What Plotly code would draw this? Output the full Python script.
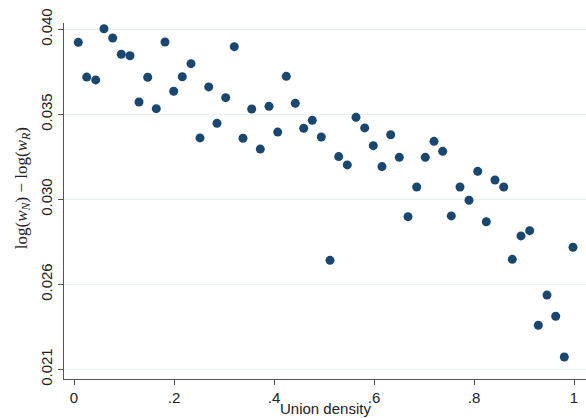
import plotly.graph_objects as go

union_density = [0.0086, 0.0254, 0.0434, 0.060, 0.0774, 0.0946, 0.112, 0.130, 0.1474, 0.1646,
                 0.182, 0.1994, 0.2166, 0.234, 0.252, 0.2694, 0.286, 0.3034, 0.3206, 0.338,
                 0.3554, 0.3726, 0.390, 0.4074, 0.4246, 0.4426, 0.4594, 0.4766, 0.4946, 0.512,
                 0.5294, 0.5466, 0.564, 0.5814, 0.5986, 0.616, 0.6334, 0.6506, 0.668, 0.6854,
                 0.7026, 0.720, 0.7374, 0.7546, 0.772, 0.790, 0.8074, 0.8246, 0.842, 0.8594,
                 0.8766, 0.894, 0.9114, 0.9286, 0.946, 0.9634, 0.9806, 0.998]

wage_gap = [0.03881, 0.03697, 0.03682, 0.03953, 0.03904, 0.03818, 0.03810, 0.03565, 0.03696, 0.03530,
            0.03883, 0.03622, 0.03699, 0.03768, 0.03375, 0.03645, 0.03452, 0.03588, 0.03858, 0.03373,
            0.03528, 0.03316, 0.03542, 0.03406, 0.03701, 0.03558, 0.03426, 0.03468, 0.03380, 0.02727,
            0.03276, 0.03232, 0.03484, 0.03428, 0.03334, 0.03223, 0.03392, 0.03272, 0.02958, 0.03115,
            0.03272, 0.03357, 0.03304, 0.02962, 0.03115, 0.03045, 0.03198, 0.02931, 0.03152, 0.03115,
            0.02732, 0.02856, 0.02884, 0.02383, 0.02543, 0.02431, 0.02215, 0.02796]

x_tickvals = [0, 0.2, 0.4, 0.6, 0.8, 1]
x_ticktext = ["0", ".2", ".4", ".6", ".8", "1"]
y_tickvals = [0.0215, 0.026, 0.0305, 0.035, 0.0395]
y_ticktext = ["0.021", "0.026", "0.030", "0.035", "0.040"]

navy = "#1a476f"
axis_col = "#555555"
grid_col = "#e8f0f2"

fig = go.Figure()
fig.add_trace(go.Scatter(
    x=union_density, y=wage_gap, mode="markers",
    marker=dict(size=9, color=navy, line=dict(width=0)),
    showlegend=False, hoverinfo="skip",
))

fig.update_layout(
    width=586, height=418,
    margin=dict(l=64, r=0, t=23, b=39),
    paper_bgcolor="white", plot_bgcolor="white",
    font=dict(family="Liberation Sans, Arial, sans-serif", size=15, color="#222222"),
    xaxis=dict(
        range=[-0.02, 1.024], tickvals=x_tickvals, ticktext=x_ticktext,
        showgrid=False, zeroline=False,
        showline=True, linecolor=axis_col, linewidth=1,
        ticks="outside", ticklen=5, tickcolor=axis_col, tickwidth=1,
        tickfont=dict(size=15, color="#222222"),
        ticklabelstandoff=0,
        automargin=False,
    ),
    yaxis=dict(
        range=[0.020986, 0.039834], tickvals=y_tickvals, ticktext=y_ticktext,
        showgrid=True, gridcolor=grid_col, gridwidth=1, zeroline=False,
        showline=True, linecolor=axis_col, linewidth=1,
        ticks="outside", ticklen=5, tickcolor=axis_col, tickwidth=1,
        tickangle=-90, tickfont=dict(size=15, color="#222222"),
        automargin=False,
    ),
    annotations=[
        dict(
            text="log(<i>w</i><sub><i>N</i></sub>) − log(<i>w</i><sub><i>R</i></sub>)",
            xref="paper", yref="paper", x=0, y=0.536,
            xanchor="center", yanchor="middle", xshift=-41,
            textangle=-90, showarrow=False,
            font=dict(family="Liberation Serif, Times New Roman, serif", size=17, color="#222222"),
        ),
        dict(
            text="Union density",
            xref="paper", yref="paper", x=0.501, y=-0.083,
            xanchor="center", yanchor="middle", showarrow=False,
            font=dict(family="Liberation Sans, Arial, sans-serif", size=15, color="#222222"),
        ),
    ],
)

fig.write_html(
    "out.html",
    config={"displayModeBar": False},
    post_script="document.body.style.margin='0';document.body.style.overflow='hidden';",
)
